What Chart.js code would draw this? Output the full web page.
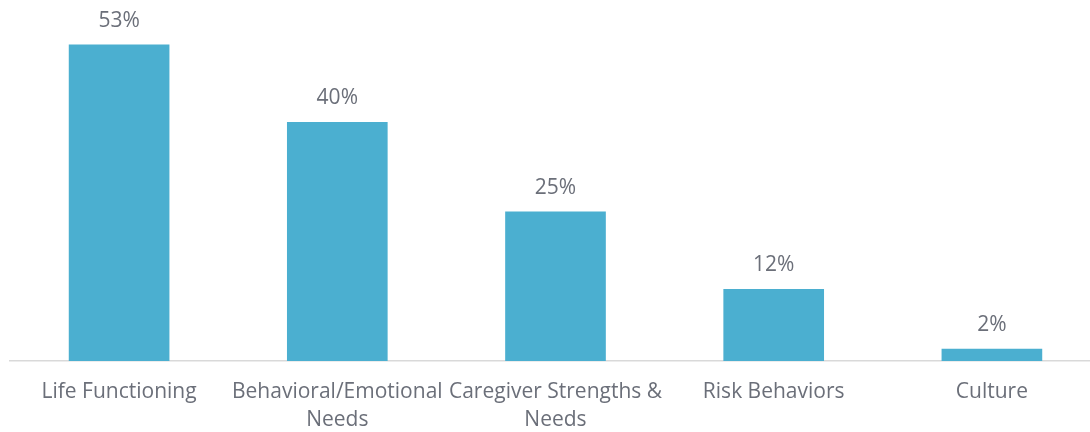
<!DOCTYPE html>
<html>
<head>
<meta charset="utf-8">
<script src="https://cdn.jsdelivr.net/npm/chart.js@4/dist/chart.umd.min.js"></script>
<style>
	html, body { margin: 0; padding: 0; background: #ffffff; }
	#wrap { width: 1090px; height: 432px; overflow: hidden; }
</style>
</head>
<body>
<div id="wrap"><canvas id="domainChart" width="1101" height="451"></canvas></div>
<script>
var categories = [
	'Life Functioning',
	['Behavioral/Emotional', 'Needs'],
	['Caregiver Strengths &', 'Needs'],
	'Risk Behaviors',
	'Culture'
];
var percentValues = [53, 40, 25, 12, 2];
var barColor = '#4bafd0';
var textColor = '#6b6f79';

// draws the "53%" style labels above each bar
var valueLabels = {
	id: 'valueLabels',
	afterDatasetsDraw: function (chart) {
		var ctx = chart.ctx;
		var meta = chart.getDatasetMeta(0);
		ctx.save();
		ctx.font = '21px "Open Sans"';
		ctx.fillStyle = textColor;
		ctx.textAlign = 'center';
		ctx.textBaseline = 'middle';
		for (var i = 0; i < meta.data.length; i++) {
			var bar = meta.data[i];
			ctx.fillText(percentValues[i] + '%', bar.x, bar.y - 24);
		}
		ctx.restore();
	}
};

var config = {
	'type': 'bar',
	'data': {
		'labels': categories,
		'datasets': [{
			'data': percentValues,
			'backgroundColor': barColor,
			'barThickness': 100
		}]
	},
	'options': {
		'responsive': false,
		'animation': false,
		'layout': { 'padding': { 'top': 3, 'left': 10, 'right': 0, 'bottom': 0 } },
		'plugins': {
			'legend': { 'display': false },
			'tooltip': { 'enabled': false }
		},
		'scales': {
			'x': {
				'grid': { 'display': false, 'drawTicks': false },
				'border': { 'color': '#d9d9d9', 'width': 1.5 },
				'ticks': {
					'color': textColor,
					'font': { 'family': 'Open Sans', 'size': 21, 'lineHeight': 1.38 },
					'padding': 16,
					'maxRotation': 0,
					'autoSkip': false
				}
			},
			'y': {
				'display': false,
				'min': 0,
				'max': 60
			}
		}
	},
	'plugins': [valueLabels]
};

var chart = new Chart(document.getElementById('domainChart'), config);
</script>
</body>
</html>
